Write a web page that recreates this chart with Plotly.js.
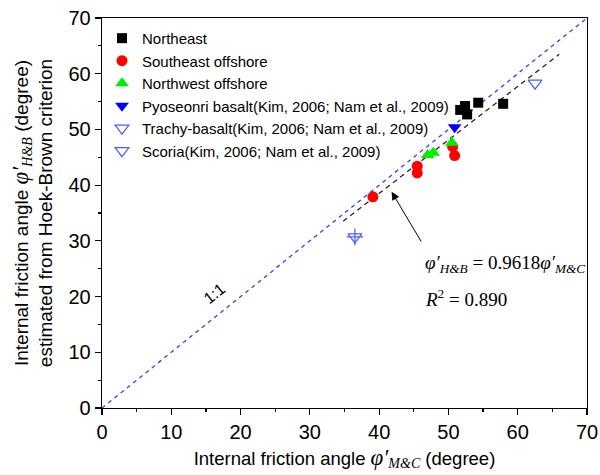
<!DOCTYPE html>
<html>
<head>
<meta charset="utf-8">
<script src="https://cdn.plot.ly/plotly-3.0.1.min.js"></script>
<style>html,body{margin:0;padding:0;background:#fff;}#chart{width:600px;height:475px;}</style>
</head>
<body>
<div id="chart"></div>
<script>
// Data
const northeastX = [51.7, 52.4, 52.7, 54.3, 57.9];
const northeastY = [53.5, 54.2, 52.7, 54.8, 54.6];
const southeastX = [39.1, 45.5, 45.5, 50.6, 50.9];
const southeastY = [37.9, 43.4, 42.2, 46.9, 45.3];
const northwestX = [47.0, 47.8, 50.5];
const northwestY = [45.4, 45.8, 47.6];
const pyoseonriX = [50.9];
const pyoseonriY = [50.4];
const trachyX = [62.5];
const trachyY = [58.3];
const scoriaX = [36.5];
const scoriaY = [30.7];
const oneToOneX = [0, 70];
const oneToOneY = [0, 70];
const fitX = [34.8, 66.0];
const fitY = [33.5, 63.5];
const axisTicks = [0, 10, 20, 30, 40, 50, 60, 70];

const serif = "'Liberation Serif', 'DejaVu Serif', serif";
const sans = "Arial, 'Liberation Sans', sans-serif";
const phi = function (sub) {
  return "<span style=\"font-family:" + serif + ";font-size:23px\"><i>φ′</i></span>" +
         "<sub><span style=\"font-family:" + serif + ";font-size:14px\"><i>" + sub + "</i></span></sub>";
};

const traces = [
  {x: oneToOneX, y: oneToOneY, mode: 'lines', showlegend: false, hoverinfo: 'skip',
   line: {color: '#3a3aff', width: 1.3, dash: '4px,4px'}},
  {x: fitX, y: fitY, mode: 'lines', showlegend: false, hoverinfo: 'skip',
   line: {color: '#222222', width: 1.3, dash: '5px,4px'}},
  {x: northeastX, y: northeastY, mode: 'markers', name: 'Northeast',
   marker: {symbol: 'square', size: 10, color: '#000000'}},
  {x: southeastX, y: southeastY, mode: 'markers', name: 'Southeast offshore',
   marker: {symbol: 'circle', size: 11, color: '#ff0000'}},
  {x: northwestX, y: northwestY, mode: 'markers', name: 'Northwest offshore',
   marker: {symbol: 'triangle-up', size: 12, color: '#00ee00'}},
  {x: pyoseonriX, y: pyoseonriY, mode: 'markers', name: 'Pyoseonri basalt(Kim, 2006; Nam et al., 2009)',
   marker: {symbol: 'triangle-down', size: 12, color: '#0000ff'}},
  {x: trachyX, y: trachyY, mode: 'markers', name: 'Trachy-basalt(Kim, 2006; Nam et al., 2009)',
   marker: {symbol: 'triangle-down-open', size: 12, color: '#4a5cff', line: {width: 1.2}}},
  {x: scoriaX, y: scoriaY, mode: 'markers', name: 'Scoria(Kim, 2006; Nam et al., 2009)',
   marker: {symbol: 'triangle-down-open', size: 12, color: '#4a5cff', line: {width: 1.2}}},
  {x: scoriaX, y: scoriaY, mode: 'markers', showlegend: false, hoverinfo: 'skip',
   marker: {symbol: 'cross-thin-open', size: 12, color: '#4a5cff', line: {width: 1.2, color: '#4a5cff'}}}
];

const axisCommon = {
  range: [0, 70], tickvals: axisTicks, ticktext: axisTicks.map(String),
  ticks: 'outside', ticklen: 6, tickwidth: 1.2, tickcolor: '#000',
  minor: {dtick: 5, ticks: 'outside', ticklen: 3, tickwidth: 1.2, tickcolor: '#000'},
  showline: true, linecolor: '#000', linewidth: 1.3, mirror: true,
  showgrid: false, zeroline: false,
  tickfont: {family: sans, size: 20, color: '#000'}
};

const layout = {
  width: 600, height: 475,
  margin: {l: 102, r: 13, t: 18, b: 67},
  paper_bgcolor: '#fff', plot_bgcolor: '#fff',
  font: {family: sans, color: '#000'},
  xaxis: Object.assign({}, axisCommon, {
    title: {text: "Internal friction angle " + phi('M&amp;C') + " (degree)",
            font: {family: sans, size: 18.5, color: '#000'}, standoff: 9}
  }),
  yaxis: Object.assign({}, axisCommon, {
    title: {text: "Internal friction angle " + phi('H&amp;B') + " (degree)<br>estimated from Hoek-Brown criterion",
            font: {family: sans, size: 19, color: '#000'}, standoff: 10}
  }),
  legend: {x: 0.0, y: 0.99, xanchor: 'left', yanchor: 'top', bgcolor: 'rgba(0,0,0,0)',
           font: {family: sans, size: 15, color: '#000'}},
  annotations: [
    {x: 41.8, y: 38.8, ax: 46.2, ay: 29.6, xref: 'x', yref: 'y', axref: 'x', ayref: 'y',
     text: '', showarrow: true, arrowhead: 2, arrowsize: 1.6, arrowwidth: 1, arrowcolor: '#000'},
    {x: 46.3, y: 25.8, xref: 'x', yref: 'y', xanchor: 'left', yanchor: 'middle', showarrow: false,
     text: "<i>φ′</i><sub><i>H&amp;B</i></sub> = 0.9618<i>φ′</i><sub><i>M&amp;C</i></sub>",
     font: {family: serif, size: 19, color: '#000'}},
    {x: 46.3, y: 19.7, xref: 'x', yref: 'y', xanchor: 'left', yanchor: 'middle', showarrow: false,
     text: "<i>R</i><sup>2</sup> = 0.890",
     font: {family: serif, size: 19, color: '#000'}},
    {x: 16.2, y: 20.6, xref: 'x', yref: 'y', showarrow: false, textangle: -39,
     text: '1:1', font: {family: sans, size: 16, color: '#000'}}
  ]
};

Plotly.newPlot('chart', traces, layout, {displayModeBar: false, staticPlot: true});
</script>
</body>
</html>
